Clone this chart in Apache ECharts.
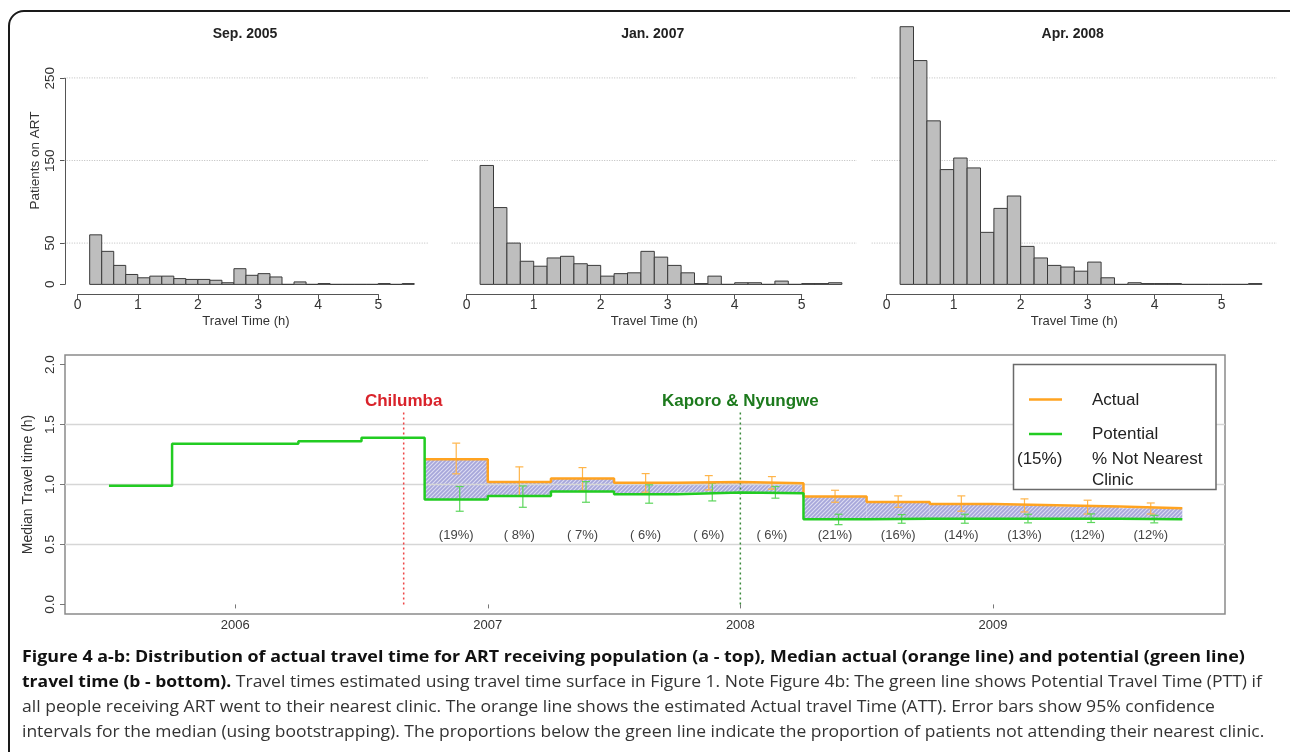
<!DOCTYPE html>
<html><head><meta charset="utf-8">
<script src="https://cdn.jsdelivr.net/npm/echarts@6/dist/echarts.min.js"></script>
<style>
html,body{margin:0;padding:0;background:#fff;}
#chart{position:absolute;left:0;top:0;width:1290px;height:752px;}
.cap{position:absolute;left:22px;white-space:nowrap;font-family:'Open Sans',sans-serif;font-size:16.5px;color:#333;transform-origin:0 50%;line-height:20px;z-index:5;}
.cap b{color:#111;font-weight:700;}
</style></head><body>
<div id="chart"></div>
<div class="cap" data-w="1223" style="top:646px"><b>Figure 4 a-b: Distribution of actual travel time for ART receiving population (a - top), Median actual (orange line) and potential (green line)</b></div>
<div class="cap" data-w="1240" style="top:671px"><b>travel time (b - bottom).</b> Travel times estimated using travel time surface in Figure 1. Note Figure 4b: The green line shows Potential Travel Time (PTT) if</div>
<div class="cap" data-w="1193" style="top:696px">all people receiving ART went to their nearest clinic. The orange line shows the estimated Actual travel Time (ATT). Error bars show 95% confidence</div>
<div class="cap" data-w="1242" style="top:721px">intervals for the median (using bootstrapping). The proportions below the green line indicate the proportion of patients not attending their nearest clinic.</div>
<script>
// ---------- DATA ----------
const panelTitles = ['Sep. 2005', 'Jan. 2007', 'Apr. 2008'];
const binStarts = [0.2,0.4,0.6,0.8,1.0,1.2,1.4,1.6,1.8,2.0,2.2,2.4,2.6,2.8,3.0,3.2,3.4,3.6,3.8,4.0,4.2,4.4,4.6,4.8,5.0,5.2,5.4];
const binWidth = 0.2;
const sep2005 = [60,40,23,12,8,10,10,7,6,6,5,2,19,11,13,9,0,3,0,1,0,0,0,0,1,0,1];
const jan2007 = [144,93,50,28,22,32,34,25,23,10,13,14,40,33,23,14,1,10,0,2,2,0,4,0,1,1,2];
const apr2008 = [330,271,198,139,153,141,63,92,107,46,32,23,21,16,27,8,0,2,1,1,1,0,0,0,0,0,1];
const histTicksX = [0,1,2,3,4,5];
const histTicksY = [0,50,150,250];
const histGrid = [50,150,250];

const earlyStarts = [2005.5, 2005.75, 2006.0, 2006.25, 2006.5];
const earlyPotential = [0.99, 1.34, 1.34, 1.36, 1.39];
const periodStarts = [2006.75,2007.0,2007.25,2007.5,2007.75,2008.0,2008.25,2008.5,2008.75,2009.0,2009.25,2009.5];
const periodEnd = 2009.75;
const actual      = [1.21,1.02,1.05,1.015,1.02,1.01,0.90,0.855,0.838,0.827,0.816,0.802];
const potential   = [0.874,0.905,0.941,0.919,0.933,0.927,0.71,0.715,0.715,0.715,0.714,0.71];
const actualLo    = [1.089,0.907,0.949,0.936,0.955,0.961,0.852,0.810,0.777,0.771,0.754,0.754];
const actualHi    = [1.345,1.147,1.141,1.091,1.074,1.066,0.952,0.905,0.905,0.880,0.869,0.846];
const potentialLo = [0.777,0.810,0.852,0.844,0.863,0.886,0.665,0.677,0.677,0.680,0.683,0.680];
const potentialHi = [0.983,0.988,1.024,0.997,1.011,0.983,0.752,0.749,0.752,0.752,0.755,0.743];
const notNearest  = ['(19%)','( 8%)','( 7%)','( 6%)','( 6%)','( 6%)','(21%)','(16%)','(14%)','(13%)','(12%)','(12%)'];
const eventNames = ['Chilumba', 'Kaporo & Nyungwe'];
const eventDates = [2006.667, 2008.0];
const eventTop = 1.6;
const yearTicks = [2006, 2007, 2008, 2009];
const medTicks = [0, 0.5, 1.0, 1.5, 2.0];
const medGrid = [0.5, 1.0, 1.5];

// ---------- STYLE ----------
const FONT = "'Liberation Sans', Arial, sans-serif";
const TXT = '#333';
const ORANGE = '#ffa320', GREEN = '#22cc22';
const eventColors = ['#d9232b', '#1d7a1d'];
const lineDashColors = ['#ee4444', '#3a8a3a'];

const hatch = (function(){
  const s = 4, c = document.createElement('canvas'); c.width = s; c.height = s;
  const g = c.getContext('2d');
  g.fillStyle = '#a6a6da'; g.fillRect(0,0,s,s);
  g.strokeStyle = '#dcdcf2'; g.lineWidth = 1.1;
  g.beginPath();
  g.moveTo(0,s); g.lineTo(s,0);
  g.moveTo(-1,1); g.lineTo(1,-1);
  g.moveTo(s-1,s+1); g.lineTo(s+1,s-1);
  g.stroke();
  return c;
})();

const chart = echarts.init(document.getElementById('chart'), null, {renderer:'canvas'});

const dataGrids = [
  {left:64.2, top:26.7, width:363.5, height:267.6},
  {left:451.7, top:26.7, width:405.2, height:267.6},
  {left:871.7, top:26.7, width:405.2, height:267.6}
];
const axisGrids = [
  {left:77.7, top:293.3, width:300.6, height:1},
  {left:466.7, top:293.3, width:335, height:1},
  {left:886.7, top:293.3, width:335, height:1}
];
const grids = [...dataGrids, ...axisGrids,
  {left:65, top:78.3, width:1, height:206},
  {left:65, top:355, width:1160, height:259, show:true, borderColor:'#8a8a8a', borderWidth:1.5}
];

const hidden = {axisLine:{show:false}, axisTick:{show:false}, axisLabel:{show:false}, splitLine:{show:false}};
const xAxes = [], yAxes = [];
for (let i=0;i<3;i++){
  xAxes.push(Object.assign({type:'value', gridIndex:i, min:-0.224, max:5.824,
    name:'Travel Time (h)', nameLocation:'middle', nameGap:21,
    nameTextStyle:{fontFamily:FONT, fontSize:13, color:TXT}}, hidden));
  yAxes.push(Object.assign({type:'value', gridIndex:i, min:-12, max:312,
    name: i===0 ? 'Patients on ART' : '', nameLocation:'middle', nameGap:22,
    nameTextStyle:{fontFamily:FONT, fontSize:13.5, color:TXT}}, hidden));
}
for (let i=0;i<3;i++){
  xAxes.push({type:'value', gridIndex:3+i, min:0, max:5, position:'bottom',
    axisLine:{show:true, lineStyle:{color:'#555', width:1}},
    axisTick:{show:true, length:5, customValues:histTicksX, lineStyle:{color:'#555'}},
    axisLabel:{show:true, customValues:histTicksX, margin:4, fontFamily:FONT, fontSize:14, color:TXT},
    splitLine:{show:false}});
  yAxes.push(Object.assign({type:'value', gridIndex:3+i, min:0, max:1}, hidden));
}
xAxes.push(Object.assign({type:'value', gridIndex:6, min:0, max:1}, hidden));
yAxes.push({type:'value', gridIndex:6, min:0, max:250,
  axisLine:{show:true, lineStyle:{color:'#555', width:1}},
  axisTick:{show:true, length:5, customValues:histTicksY, lineStyle:{color:'#555'}},
  axisLabel:{show:true, customValues:histTicksY, rotate:90, margin:8, fontFamily:FONT, fontSize:13.5, color:TXT},
  splitLine:{show:false}});
xAxes.push({type:'value', gridIndex:7, min:2005.326, max:2009.919,
  axisLine:{show:false},
  axisTick:{show:true, length:4, customValues:yearTicks, lineStyle:{color:'#777'}},
  axisLabel:{show:true, customValues:yearTicks, margin:5, fontFamily:FONT, fontSize:13, color:TXT, formatter:v=>String(Math.round(v))},
  splitLine:{show:false}});
yAxes.push({type:'value', gridIndex:7, min:-0.08, max:2.08,
  name:'Median Travel time (h)', nameLocation:'middle', nameGap:23,
  nameTextStyle:{fontFamily:FONT, fontSize:14, color:TXT},
  axisLine:{show:false},
  axisTick:{show:true, length:5, customValues:medTicks, lineStyle:{color:'#777'}},
  axisLabel:{show:true, customValues:medTicks, rotate:90, margin:8, fontFamily:FONT, fontSize:13.5, color:TXT, formatter:v=>v.toFixed(1)},
  splitLine:{show:false}});

function gridLineSeries(idx, values, style, z){
  return {type:'custom', xAxisIndex:idx, yAxisIndex:idx, z:z, silent:true,
    data: values.map(v=>[0, v]),
    renderItem:(params, api)=>{
      const cs = params.coordSys;
      const y = api.coord([api.value(0), api.value(1)])[1];
      return {type:'line', shape:{x1:cs.x, y1:y, x2:cs.x+cs.width, y2:y}, style:style};
    }};
}

function histSeries(idx, values){
  return {type:'custom', xAxisIndex:idx, yAxisIndex:idx, z:3, silent:true,
    data: binStarts.map((b,i)=>[b, b+binWidth, values[i]]),
    renderItem:(params, api)=>{
      const cs = params.coordSys;
      const p0 = api.coord([api.value(0), 0]);
      const p1 = api.coord([api.value(1), api.value(2)]);
      const r = echarts.graphic.clipRectByRect(
        {x:p0[0], y:p1[1], width:p1[0]-p0[0], height:p0[1]-p1[1]},
        {x:cs.x, y:cs.y, width:cs.width, height:cs.height});
      if (!r) return null;
      return {type:'rect', shape:r, style:{fill:'#bebebe', stroke:'#3a3a3a', lineWidth:1}};
    }};
}

const series = [];
const histData = [sep2005, jan2007, apr2008];
for (let i=0;i<3;i++){
  series.push(gridLineSeries(i, histGrid, {stroke:'#bdbdbd', lineWidth:1, lineDash:[1,1.5]}, 1));
  series.push(histSeries(i, histData[i]));
}

const segEnds = periodStarts.map((s,i)=> i<periodStarts.length-1 ? periodStarts[i+1] : periodEnd);

// hatched gap between actual and potential
series.push({type:'custom', xAxisIndex:7, yAxisIndex:7, z:2, silent:true,
  data: periodStarts.map((s,i)=>[s, segEnds[i], potential[i], actual[i]]),
  renderItem:(params, api)=>{
    const a = api.coord([api.value(0), api.value(3)]);
    const b = api.coord([api.value(1), api.value(2)]);
    return {type:'rect', shape:{x:a[0], y:a[1], width:b[0]-a[0], height:b[1]-a[1]},
      style:{fill:{image:hatch, repeat:'repeat'}}};
  }});
series.push(gridLineSeries(7, medGrid, {stroke:'#d6d6d6', lineWidth:1.5}, 3));

function errSeries(lo, hi, color, dx){
  return {type:'custom', xAxisIndex:7, yAxisIndex:7, z:4, silent:true,
    data: periodStarts.map((s,i)=>[(s+segEnds[i])/2, lo[i], hi[i]]),
    renderItem:(params, api)=>{
      const p1 = api.coord([api.value(0), api.value(1)]);
      const p2 = api.coord([api.value(0), api.value(2)]);
      const x = p1[0] + dx, w = 4;
      const st = {stroke:color, lineWidth:1.2};
      return {type:'group', children:[
        {type:'line', shape:{x1:x, y1:p1[1], x2:x, y2:p2[1]}, style:st},
        {type:'line', shape:{x1:x-w, y1:p1[1], x2:x+w, y2:p1[1]}, style:st},
        {type:'line', shape:{x1:x-w, y1:p2[1], x2:x+w, y2:p2[1]}, style:st}
      ]};
    }};
}
series.push(errSeries(actualLo, actualHi, '#ffb54a', 0));
series.push(errSeries(potentialLo, potentialHi, '#5cd65c', 3.5));

const greenLine = earlyStarts.map((x,i)=>[x, earlyPotential[i]])
  .concat(periodStarts.map((x,i)=>[x, potential[i]]))
  .concat([[periodEnd, potential[potential.length-1]]]);
const orangeLine = periodStarts.map((x,i)=>[x, actual[i]])
  .concat([[periodEnd, actual[actual.length-1]]]);
series.push({type:'line', name:'Actual', xAxisIndex:7, yAxisIndex:7, step:'end', data:orangeLine,
  showSymbol:false, symbol:'none', z:5, silent:true, lineStyle:{color:ORANGE, width:2.5}});
series.push({type:'line', name:'Potential', xAxisIndex:7, yAxisIndex:7, step:'end', data:greenLine,
  showSymbol:false, symbol:'none', z:6, silent:true, lineStyle:{color:GREEN, width:2.5}});

// percentage labels
const labelLevel = 0.576;
series.push({type:'custom', xAxisIndex:7, yAxisIndex:7, z:6, silent:true,
  data: periodStarts.map((s,i)=>[(s+segEnds[i])/2, labelLevel, notNearest[i]]),
  renderItem:(params, api)=>{
    const p = api.coord([api.value(0), api.value(1)]);
    return {type:'text', x:p[0], y:p[1], style:{text:notNearest[params.dataIndex], fill:'#444',
      font:'13px '+FONT, align:'center', verticalAlign:'middle', textAlign:'center', textVerticalAlign:'middle'}};
  }});

// event markers
series.push({type:'custom', xAxisIndex:7, yAxisIndex:7, z:4, silent:true,
  data: eventDates.map((d,i)=>[d, 0, eventTop]),
  renderItem:(params, api)=>{
    const i = params.dataIndex;
    const p0 = api.coord([api.value(0), api.value(1)]);
    const p1 = api.coord([api.value(0), api.value(2)]);
    return {type:'group', children:[
      {type:'line', shape:{x1:p0[0], y1:p0[1], x2:p1[0], y2:p1[1]},
        style:{stroke:lineDashColors[i], lineWidth:1.5, lineDash:[2,3]}},
      {type:'text', x:p1[0], y:p1[1]-11, style:{text:eventNames[i], fill:eventColors[i],
        font:'bold 17px '+FONT, align:'center', verticalAlign:'middle', textAlign:'center', textVerticalAlign:'middle'}}
    ]};
  }});

const titleGraphics = panelTitles.map((t,i)=>({type:'text', x:[245,652.7,1072.7][i], y:34.5, silent:true,
  style:{text:t, fill:'#222', font:'bold 14px '+FONT, align:'center', verticalAlign:'middle', textAlign:'center', textVerticalAlign:'middle'}}));

const legendText = (t, x, y, align) => ({type:'text', x:x, y:y, z:101, silent:true,
  style:{text:t, fill:'#222', font:'17px '+FONT, align:align||'left', verticalAlign:'middle', textAlign:align||'left', textVerticalAlign:'middle'}});

const graphics = [
  {type:'rect', shape:{x:9, y:11, width:1300, height:900, r:15}, silent:true, z:-1,
    style:{fill:'none', stroke:'#1a1a1a', lineWidth:2}},
  ...titleGraphics,
  {type:'rect', shape:{x:1013.5, y:364.5, width:202.5, height:125}, z:100, silent:true,
    style:{fill:'#fff', stroke:'#6a6a6a', lineWidth:1.5}},
  {type:'line', shape:{x1:1029, y1:399.5, x2:1062, y2:399.5}, z:101, silent:true, style:{stroke:ORANGE, lineWidth:2.5}},
  {type:'line', shape:{x1:1029, y1:434, x2:1062, y2:434}, z:101, silent:true, style:{stroke:GREEN, lineWidth:2.5}},
  legendText('Actual', 1092, 400),
  legendText('Potential', 1092, 434),
  legendText('(15%)', 1017, 459),
  legendText('% Not Nearest', 1092, 459),
  legendText('Clinic', 1092, 480)
];

chart.setOption({
  animation:false,
  backgroundColor:'#fff',
  grid: grids,
  xAxis: xAxes,
  yAxis: yAxes,
  series: series,
  graphic: graphics
});

function fitCaption(){
  document.querySelectorAll('.cap').forEach(el=>{
    el.style.transform = 'none';
    const w = el.scrollWidth;
    const target = parseFloat(el.dataset.w);
    el.style.transform = 'scaleX(' + (target / w) + ')';
  });
}
fitCaption();
if (document.fonts && document.fonts.ready) document.fonts.ready.then(fitCaption);
</script>
</body></html>
